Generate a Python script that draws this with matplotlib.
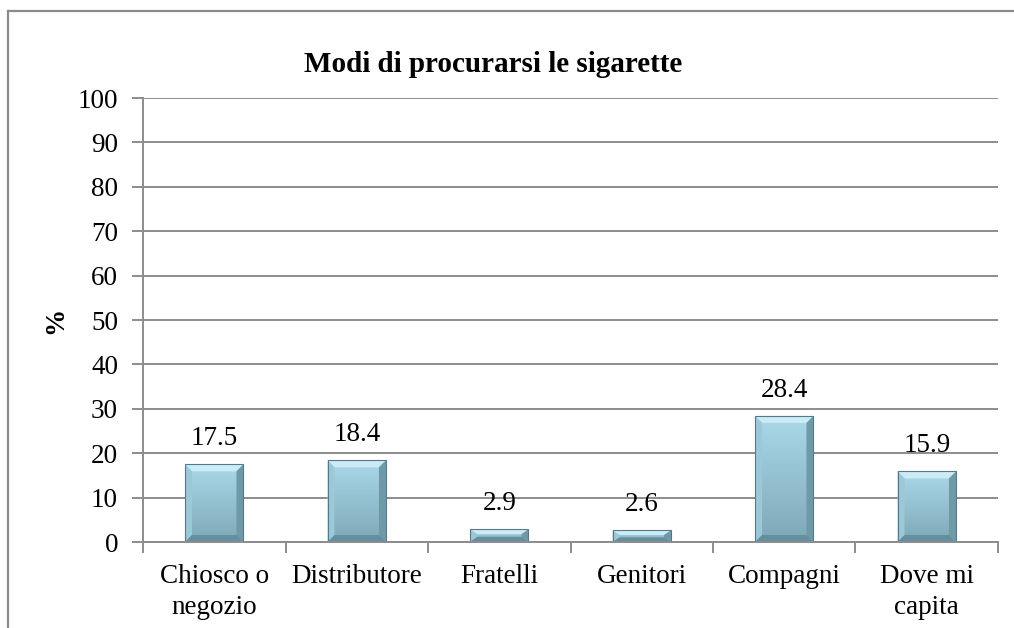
from matplotlib import pyplot as plt
from matplotlib.lines import Line2D
from matplotlib.patches import Polygon
from matplotlib.colors import LinearSegmentedColormap
import numpy as np

categories = ['Chiosco o\nnegozio', 'Distributore', 'Fratelli', 'Genitori', 'Compagni', 'Dove mi\ncapita']
values = [17.5, 18.4, 2.9, 2.6, 28.4, 15.9]
y_ticks = [0, 10, 20, 30, 40, 50, 60, 70, 80, 90, 100]
title = 'Modi di procurarsi le sigarette'

plt.rcParams['font.family'] = ['Liberation Serif', 'DejaVu Serif']
grey = '#8c8c8c'
fs = 19.5

fig = plt.figure(figsize=(10.14, 6.28), dpi=100)
ax = fig.add_axes([143 / 1014, 1 - 542 / 628, 855 / 1014, 444 / 628])

x = np.arange(len(categories))
ax.set_xlim(-0.5, len(categories) - 0.5)
ax.set_ylim(0, 100)
ax.set_yticks(y_ticks)
ax.yaxis.grid(True, color=grey, linewidth=1.4)
ax.set_axisbelow(True)

for s in ['top', 'right']:
    ax.spines[s].set_visible(False)
for s in ['left', 'bottom']:
    ax.spines[s].set_color(grey)
    ax.spines[s].set_linewidth(1.4)

ax.tick_params(axis='y', length=8, width=1.4, color=grey, labelsize=fs, pad=10)
ax.set_xticks(np.arange(-0.5, len(categories), 1.0))
ax.set_xticklabels([])
ax.tick_params(axis='x', which='major', length=8, width=1.4, color=grey)
ax.set_xticks(x, minor=True)
ax.set_xticklabels(categories, minor=True, fontsize=fs, linespacing=1.3)
ax.tick_params(axis='x', which='minor', length=0, pad=16)

bars = ax.bar(x, values, width=0.41, color='#9fcfe0', edgecolor='#4f7482', linewidth=0.6, zorder=2)

# bevel size in data units
inv = ax.transData.inverted()
p0 = inv.transform((0, 0))
p1 = inv.transform((7, 7))
bx, by = p1[0] - p0[0], p1[1] - p0[1]

cmap = LinearSegmentedColormap.from_list('g', ['#7ea8b8', '#aad9e9'])
grad = np.linspace(0, 1, 100).reshape(-1, 1)
for b in bars:
    x0, w, h = b.get_x(), b.get_width(), b.get_height()
    x1 = x0 + w
    im = ax.imshow(grad, extent=(x0, x1, 0, h), aspect='auto', cmap=cmap, origin='lower', zorder=2.1)
    im.set_clip_path(b)
    dy = min(by, h / 2.5)
    # top, left, right, bottom bevels
    ax.add_patch(Polygon([(x0, h), (x1, h), (x1 - bx, h - dy), (x0 + bx, h - dy)], closed=True,
                         facecolor='#cbecf6', edgecolor='none', zorder=2.2))
    ax.add_patch(Polygon([(x0, h), (x0 + bx, h - dy), (x0 + bx, dy), (x0, 0)], closed=True,
                         facecolor='#9cc8d8', edgecolor='none', zorder=2.2))
    ax.add_patch(Polygon([(x1, h), (x1 - bx, h - dy), (x1 - bx, dy), (x1, 0)], closed=True,
                         facecolor='#7099a8', edgecolor='none', zorder=2.2))
    ax.add_patch(Polygon([(x0, 0), (x1, 0), (x1 - bx, dy), (x0 + bx, dy)], closed=True,
                         facecolor='#668e9d', edgecolor='none', zorder=2.2))
    ax.add_patch(Polygon([(x0, 0), (x1, 0), (x1, h), (x0, h)], closed=True,
                         facecolor='none', edgecolor='#55798a', linewidth=0.8, zorder=2.3))
    ax.text(b.get_x() + w / 2, h + 3.0, f'{h:.1f}', ha='center', va='bottom', fontsize=fs, zorder=3)

ax.set_ylabel('%', fontsize=fs, fontweight='bold')
ax.yaxis.set_label_coords(-0.088, 0.5)
fig.text(493 / 1014, 1 - 64 / 628, title, ha='center', va='center', fontsize=21, fontweight='bold')

# outer chart frame
fig.add_artist(Line2D([8 / 1014, 1.0], [1 - 11 / 628, 1 - 11 / 628], color=grey, linewidth=1.6))
fig.add_artist(Line2D([8 / 1014, 8 / 1014], [0, 1 - 11 / 628], color=grey, linewidth=1.6))

fig.savefig('out.png', dpi=100)
